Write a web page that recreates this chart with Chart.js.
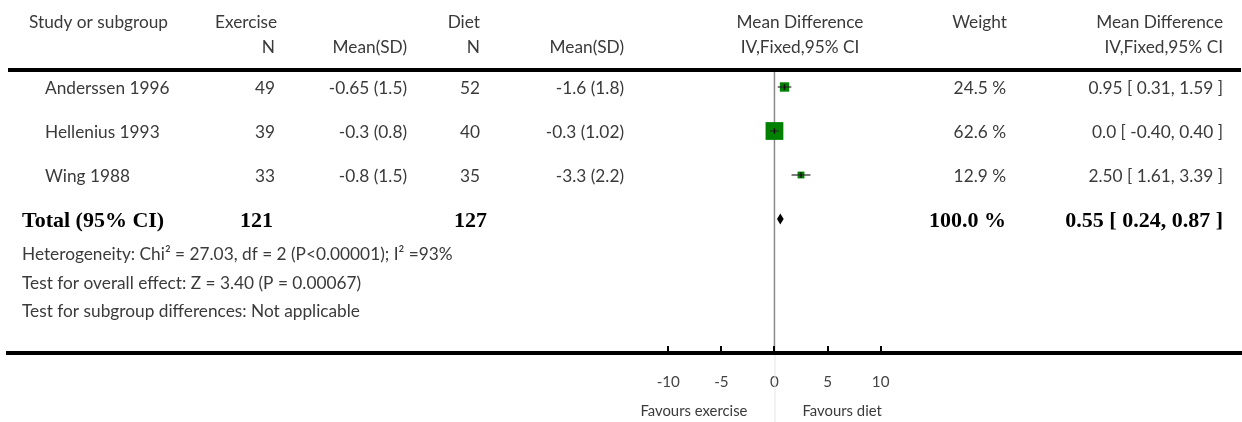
<!DOCTYPE html>
<html>
<head>
<meta charset="utf-8">
<script src="https://cdn.jsdelivr.net/npm/chart.js@4.4.1/dist/chart.umd.min.js"></script>
<style>
  html, body { margin: 0; padding: 0; background: #fff; }
  #wrap { width: 1242px; height: 422px; }
</style>
</head>
<body>
<div id="wrap"><canvas id="c" width="1242" height="422"></canvas></div>
<script>
// ---------------- data ----------------
const studies      = ['Anderssen 1996', 'Hellenius 1993', 'Wing 1988'];
const exerciseN    = [49, 39, 33];
const exerciseMSD  = ['-0.65 (1.5)', '-0.3 (0.8)', '-0.8 (1.5)'];
const dietN        = [52, 40, 35];
const dietMSD      = ['-1.6 (1.8)', '-0.3 (1.02)', '-3.3 (2.2)'];
const meanDiff     = [0.95, 0.0, 2.50];
const ciLow        = [0.31, -0.40, 1.61];
const ciHigh       = [1.59, 0.40, 3.39];
const weights      = [24.5, 62.6, 12.9];
const mdLabels     = ['0.95 [ 0.31, 1.59 ]', '0.0 [ -0.40, 0.40 ]', '2.50 [ 1.61, 3.39 ]'];

const totalLabel   = 'Total (95% CI)';
const totalExN     = 121;
const totalDietN   = 127;
const totalMD      = 0.55;
const totalLow     = 0.24;
const totalHigh    = 0.87;
const totalWeight  = '100.0 %';
const totalMDLabel = '0.55 [ 0.24, 0.87 ]';

const footnotes = [
  'Heterogeneity: Chi\u00B2 = 27.03, df = 2 (P<0.00001); I\u00B2 =93%',
  'Test for overall effect: Z = 3.40 (P = 0.00067)',
  'Test for subgroup differences: Not applicable'
];
const xTicks = [-10, -5, 0, 5, 10];
const favours = ['Favours exercise', 'Favours diet'];
const headers1 = { study: 'Study or subgroup', exercise: 'Exercise', diet: 'Diet', md: 'Mean Difference', weight: 'Weight' };
const headers2 = { n: 'N', msd: 'Mean(SD)', ci: 'IV,Fixed,95% CI' };

// ---------------- layout / style ----------------
const X_MIN = -72.17, X_MAX = 43.93;     // visible x range of the full-width axis
const Y_MIN = -1.977, Y_MAX = 6.045;     // row index range (reversed)
const GREEN = '#008000';
const TEXT = '#3a3a3a';
const REG_FAMILY = 'Lato, "Noto Sans", sans-serif';
const BOLD_FAMILY = '"Liberation Serif", "DejaVu Serif", serif';

const mctx = document.createElement('canvas').getContext('2d');
function fitSize(text, family, weight, target) {
  mctx.font = weight + ' 100px ' + family;
  return Math.max(11, Math.min(22, 100 * target / mctx.measureText(text).width));
}
const REG_SIZE = fitSize(footnotes[0], REG_FAMILY, 'normal', 431);
const BOLD_SIZE = fitSize(totalLabel, BOLD_FAMILY, 'bold', 146);
const REG = REG_SIZE.toFixed(2) + 'px ' + REG_FAMILY;
const SMALL = (REG_SIZE * 0.86).toFixed(2) + 'px ' + REG_FAMILY;
const BOLD = 'bold ' + BOLD_SIZE.toFixed(2) + 'px ' + BOLD_FAMILY;

const squareSide = w => 4 + 0.22 * w;

// ---------------- datasets ----------------
const rows = studies.map((s, i) => i);
const datasets = [];
datasets.push({
  type: 'scatter',
  data: rows.map(i => ({ x: meanDiff[i], y: i })),
  pointStyle: 'rect',
  pointRadius: rows.map(i => squareSide(weights[i]) / Math.SQRT2),
  pointHoverRadius: rows.map(i => squareSide(weights[i]) / Math.SQRT2),
  backgroundColor: GREEN,
  borderColor: GREEN,
  borderWidth: 0,
  order: 3
});
rows.forEach(i => {
  datasets.push({
    type: 'line',
    data: [{ x: ciLow[i], y: i }, { x: ciHigh[i], y: i }],
    borderColor: 'rgba(40,40,40,0.6)',
    borderWidth: 2,
    pointRadius: 0,
    fill: false,
    order: 2
  });
});
datasets.push({
  type: 'scatter',
  data: rows.map(i => ({ x: meanDiff[i], y: i })),
  pointStyle: 'line',
  rotation: 90,
  pointRadius: 2.8,
  borderColor: '#111',
  borderWidth: 1.5,
  order: 1
});

// ---------------- plugin: table text, rules, diamond ----------------
const forestPlugin = {
  id: 'forest',
  beforeDatasetsDraw(chart) {
    const { ctx, chartArea, scales: { x } } = chart;
    const x0 = x.getPixelForValue(0);
    ctx.save();
    ctx.strokeStyle = '#8a8a8a';
    ctx.lineWidth = 1.5;
    ctx.beginPath();
    ctx.moveTo(x0, 72);
    ctx.lineTo(x0, chartArea.bottom - 2);
    ctx.stroke();
    ctx.strokeStyle = '#e6e6e6';
    ctx.lineWidth = 1;
    ctx.beginPath();
    ctx.moveTo(x0 + 0.5, chartArea.bottom + 2);
    ctx.lineTo(x0 + 0.5, 422);
    ctx.stroke();
    ctx.restore();
  },
  afterDatasetsDraw(chart) {
    const { ctx, chartArea, scales: { x, y } } = chart;
    ctx.save();
    ctx.fillStyle = '#000';
    ctx.fillRect(chartArea.left, 68, chartArea.right - chartArea.left, 4);
    ctx.strokeStyle = '#000';
    ctx.lineWidth = 2;
    xTicks.forEach(v => {
      const px = Math.round(x.getPixelForValue(v));
      ctx.beginPath();
      ctx.moveTo(px, chartArea.bottom - 7);
      ctx.lineTo(px, chartArea.bottom);
      ctx.stroke();
    });
    const ty = y.getPixelForValue(studies.length);
    const half = 5.5;
    ctx.fillStyle = '#000';
    ctx.beginPath();
    ctx.moveTo(x.getPixelForValue(totalLow), ty);
    ctx.lineTo(x.getPixelForValue(totalMD), ty - half);
    ctx.lineTo(x.getPixelForValue(totalHigh), ty);
    ctx.lineTo(x.getPixelForValue(totalMD), ty + half);
    ctx.closePath();
    ctx.fill();

    ctx.textBaseline = 'middle';
    ctx.fillStyle = TEXT;
    ctx.font = REG;
    const t = (s, px, py, align) => { ctx.textAlign = align; ctx.fillText(String(s), px, py); };
    const h1 = 22, h2 = 47;
    t(headers1.study, 29, h1, 'left');
    t(headers1.exercise, 215, h1, 'left');
    t(headers1.diet, 480, h1, 'right');
    t(headers1.md, 800, h1, 'center');
    t(headers1.weight, 1007, h1, 'right');
    t(headers1.md, 1223, h1, 'right');
    t(headers2.n, 275, h2, 'right');
    t(headers2.msd, 407, h2, 'right');
    t(headers2.n, 480, h2, 'right');
    t(headers2.msd, 624, h2, 'right');
    t(headers2.ci, 800, h2, 'center');
    t(headers2.ci, 1223, h2, 'right');
    rows.forEach(i => {
      const py = y.getPixelForValue(i) + 1;
      t(studies[i], 45, py, 'left');
      t(exerciseN[i], 275, py, 'right');
      t(exerciseMSD[i], 407, py, 'right');
      t(dietN[i], 480, py, 'right');
      t(dietMSD[i], 624, py, 'right');
      t(weights[i].toFixed(1) + ' %', 1006, py, 'right');
      t(mdLabels[i], 1223, py, 'right');
    });
    ctx.fillStyle = '#000';
    ctx.font = BOLD;
    const tpy = ty + 2;
    t(totalLabel, 22, tpy, 'left');
    t(totalExN, 273, tpy, 'right');
    t(totalDietN, 487, tpy, 'right');
    t(totalWeight, 1006, tpy, 'right');
    t(totalMDLabel, 1223, tpy, 'right');
    ctx.fillStyle = TEXT;
    ctx.font = REG;
    [254, 283, 311].forEach((py, k) => t(footnotes[k], 22, py, 'left'));
    ctx.font = SMALL;
    const x0 = x.getPixelForValue(0);
    t(favours[0], x0 - 27, 411, 'right');
    t(favours[1], x0 + 28, 411, 'left');
    ctx.restore();
  }
};

new Chart(document.getElementById('c'), {
  data: { datasets },
  options: {
    responsive: false,
    animation: false,
    devicePixelRatio: 1,
    layout: { autoPadding: false, padding: { left: 8, right: 1, top: 0, bottom: 0 } },
    plugins: { legend: { display: false }, tooltip: { enabled: false } },
    events: [],
    scales: {
      x: {
        type: 'linear',
        position: 'bottom',
        min: X_MIN,
        max: X_MAX,
        afterBuildTicks: axis => { axis.ticks = xTicks.map(v => ({ value: v })); },
        afterFit: scale => { scale.height = 69; },
        grid: { display: true, drawOnChartArea: false, drawTicks: false, color: 'rgba(0,0,0,0)' },
        border: { display: true, color: '#000', width: 4 },
        ticks: {
          padding: 20,
          color: '#444',
          font: { family: REG_FAMILY, size: REG_SIZE * 0.88 },
          autoSkip: false,
          maxRotation: 0,
          callback: v => String(v)
        }
      },
      y: {
        type: 'linear',
        display: false,
        reverse: true,
        min: Y_MIN,
        max: Y_MAX
      }
    }
  },
  plugins: [forestPlugin]
});
</script>
</body>
</html>
